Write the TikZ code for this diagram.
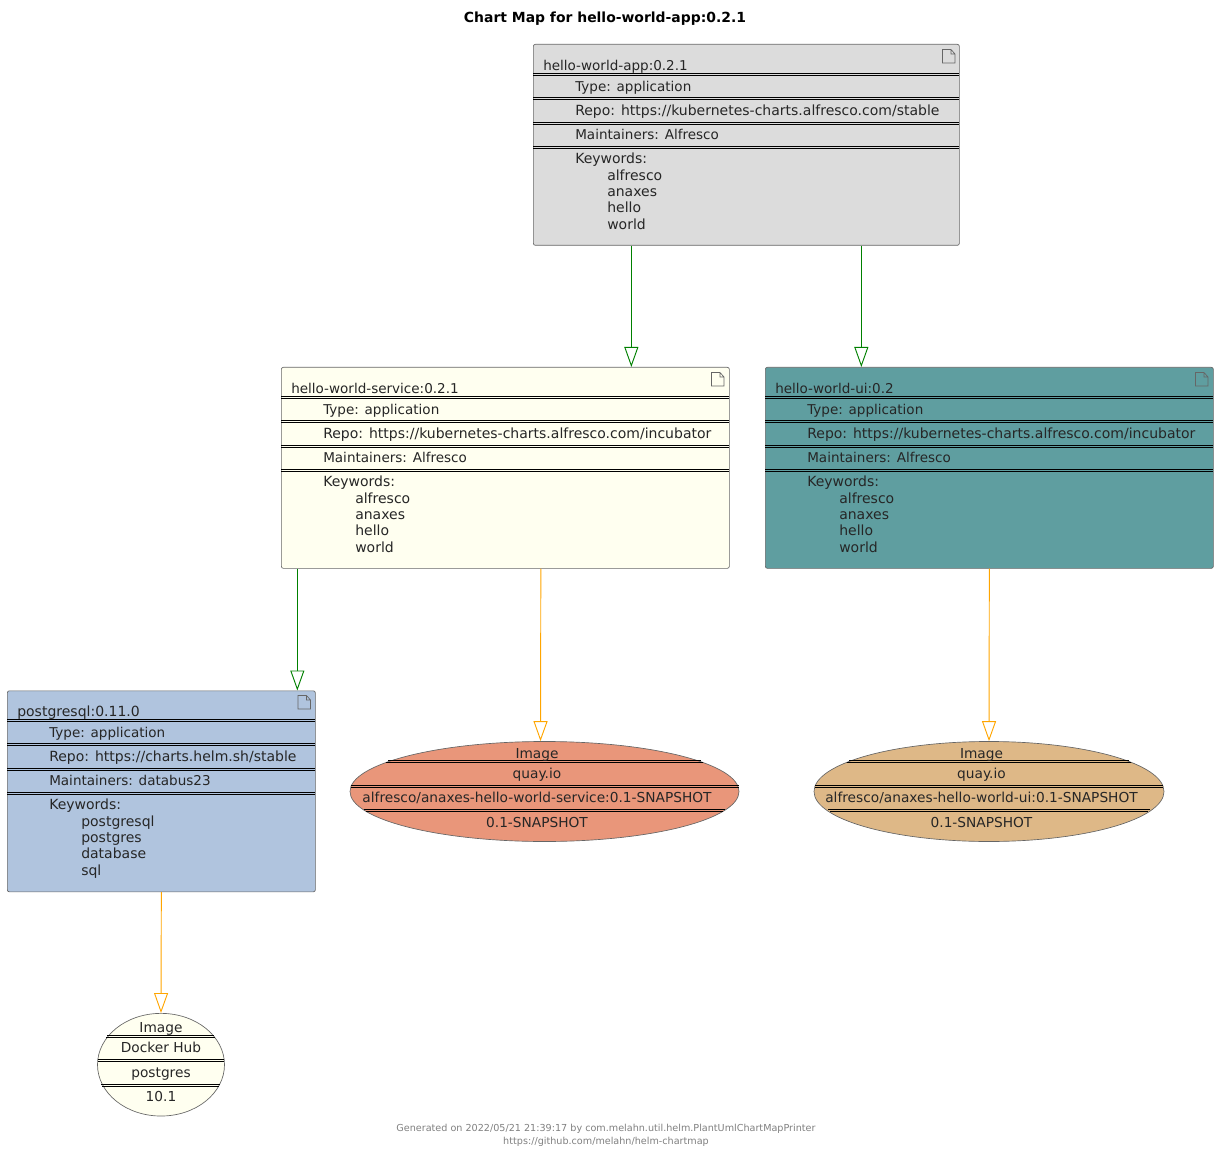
\documentclass[tikz,border=0pt]{standalone}
\usepackage{fontspec}
\setmainfont{DejaVu Sans}
\usetikzlibrary{arrows.meta,shapes.geometric}
\definecolor{appgrey}{HTML}{DCDCDC}
\definecolor{serviceivory}{HTML}{FFFFF0}
\definecolor{uiblue}{HTML}{5F9EA0}
\definecolor{postgresblue}{HTML}{B0C4DE}
\definecolor{servicesalmon}{HTML}{E9967A}
\definecolor{uiwood}{HTML}{DEB887}
\definecolor{greenline}{HTML}{008000}
\definecolor{orangeline}{HTML}{FFA500}
\definecolor{edgegrey}{HTML}{666666}
\tikzset{
  chartbox/.style={draw=edgegrey, line width=0.5pt, rounded corners=1.5pt, inner sep=0, anchor=north west},
  imageoval/.style={draw=edgegrey, line width=0.5pt, ellipse, inner sep=0},
  chartline/.style={inner sep=0, anchor=base west, yshift=-0.5pt, text=black!85, font=\fontsize{10.5}{12}\selectfont},
  narrowline/.style={chartline, font=\fontsize{10.15}{12}\selectfont},
  imageline/.style={inner sep=0, anchor=base, text=black!85, font=\fontsize{10.3}{12}\selectfont},
  sepline/.style={draw=black, line width=0.6pt},
  fileicon/.style={draw=edgegrey, line width=0.5pt},
  dependson/.style={draw=greenline, line width=0.7pt, -{Triangle[open, length=15pt, width=10.5pt]}},
  usesimage/.style={draw=orangeline, line width=0.7pt, -{Triangle[open, length=15pt, width=10.5pt]}}
}
\begin{document}
\begin{tikzpicture}[x=0.75pt, y=-0.75pt]
\useasboundingbox (0,0) rectangle (1224,1151);

%Title
\node[inner sep=0, font=\fontsize{10.45}{12}\selectfont\bfseries] (charttitle) at (605,19) {Chart Map for hello-world-app:0.2.1};

%hello-world-app
\node[chartbox, fill=appgrey, minimum width=319.5pt, minimum height=150.75pt] (app) at (533,44) {};
\draw[fileicon] (942.5,49.5) -- (951,49.5) -- (955,54) -- (955,63) -- (942.5,63) -- cycle (951,49.5) -- (951,54) -- (955,54);
\draw[sepline] (533,73.6) -- (959,73.6) (533,75.4) -- (959,75.4);
\draw[sepline] (533,97.6) -- (959,97.6) (533,99.4) -- (959,99.4);
\draw[sepline] (533,122.6) -- (959,122.6) (533,124.4) -- (959,124.4);
\draw[sepline] (533,146.6) -- (959,146.6) (533,148.4) -- (959,148.4);
\node[narrowline] (apptitle) at (543,70) {hello-world-app:0.2.1};
\node[narrowline] (apptype) at (575,91) {Type: application};
\node[chartline] (apprepo) at (575,115) {Repo: https://kubernetes-charts.alfresco.com/stable};
\node[narrowline] (appmaint) at (575,139) {Maintainers: Alfresco};
\node[chartline] (appkeys) at (575,163) {Keywords:};
\node[chartline] (appkeya) at (607,180) {alfresco};
\node[chartline] (appkeyb) at (607,196) {anaxes};
\node[chartline] (appkeyc) at (607,212) {hello};
\node[chartline] (appkeyd) at (607,229) {world};

%hello-world-service
\node[chartbox, fill=serviceivory, minimum width=336pt, minimum height=150.75pt] (service) at (281,367) {};
\draw[fileicon] (711.5,372.5) -- (720,372.5) -- (724,377) -- (724,386) -- (711.5,386) -- cycle (720,372.5) -- (720,377) -- (724,377);
\draw[sepline] (281,396.6) -- (729,396.6) (281,398.4) -- (729,398.4);
\draw[sepline] (281,420.6) -- (729,420.6) (281,422.4) -- (729,422.4);
\draw[sepline] (281,445.6) -- (729,445.6) (281,447.4) -- (729,447.4);
\draw[sepline] (281,469.6) -- (729,469.6) (281,471.4) -- (729,471.4);
\node[narrowline] (servicetitle) at (291,393) {hello-world-service:0.2.1};
\node[narrowline] (servicetype) at (323,414) {Type: application};
\node[chartline] (servicerepo) at (323,438) {Repo: https://kubernetes-charts.alfresco.com/incubator};
\node[narrowline] (servicemaint) at (323,462) {Maintainers: Alfresco};
\node[chartline] (servicekeys) at (323,486) {Keywords:};
\node[chartline] (servicekeya) at (355,503) {alfresco};
\node[chartline] (servicekeyb) at (355,519) {anaxes};
\node[chartline] (servicekeyc) at (355,535) {hello};
\node[chartline] (servicekeyd) at (355,552) {world};

%hello-world-ui
\node[chartbox, fill=uiblue, minimum width=336pt, minimum height=150.75pt] (ui) at (765,367) {};
\draw[fileicon] (1195.5,372.5) -- (1204,372.5) -- (1208,377) -- (1208,386) -- (1195.5,386) -- cycle (1204,372.5) -- (1204,377) -- (1208,377);
\draw[sepline] (765,396.6) -- (1213,396.6) (765,398.4) -- (1213,398.4);
\draw[sepline] (765,420.6) -- (1213,420.6) (765,422.4) -- (1213,422.4);
\draw[sepline] (765,445.6) -- (1213,445.6) (765,447.4) -- (1213,447.4);
\draw[sepline] (765,469.6) -- (1213,469.6) (765,471.4) -- (1213,471.4);
\node[narrowline] (uititle) at (775,393) {hello-world-ui:0.2};
\node[narrowline] (uitype) at (807,414) {Type: application};
\node[chartline] (uirepo) at (807,438) {Repo: https://kubernetes-charts.alfresco.com/incubator};
\node[narrowline] (uimaint) at (807,462) {Maintainers: Alfresco};
\node[chartline] (uikeys) at (807,486) {Keywords:};
\node[chartline] (uikeya) at (839,503) {alfresco};
\node[chartline] (uikeyb) at (839,519) {anaxes};
\node[chartline] (uikeyc) at (839,535) {hello};
\node[chartline] (uikeyd) at (839,552) {world};

%postgresql
\node[chartbox, fill=postgresblue, minimum width=231pt, minimum height=150.75pt] (postgres) at (7,690.5) {};
\draw[fileicon] (298,695.5) -- (306.5,695.5) -- (310.5,700) -- (310.5,709) -- (298,709) -- cycle (306.5,695.5) -- (306.5,700) -- (310.5,700);
\draw[sepline] (7,719.6) -- (315,719.6) (7,721.4) -- (315,721.4);
\draw[sepline] (7,743.6) -- (315,743.6) (7,745.4) -- (315,745.4);
\draw[sepline] (7,768.6) -- (315,768.6) (7,770.4) -- (315,770.4);
\draw[sepline] (7,792.6) -- (315,792.6) (7,794.4) -- (315,794.4);
\node[chartline] (postgrestitle) at (17,716) {postgresql:0.11.0};
\node[narrowline] (postgrestype) at (49,737) {Type: application};
\node[chartline] (postgresrepo) at (49,761) {Repo: https://charts.helm.sh/stable};
\node[narrowline] (postgresmaint) at (49,785) {Maintainers: databus23};
\node[chartline] (postgreskeys) at (49,809) {Keywords:};
\node[chartline] (postgreskeya) at (81,826) {postgresql};
\node[chartline] (postgreskeyb) at (81,842) {postgres};
\node[chartline] (postgreskeyc) at (81,858) {database};
\node[chartline] (postgreskeyd) at (81,875) {sql};

%Image service
\node[imageoval, fill=servicesalmon, minimum width=291.75pt, minimum height=75pt] (serviceimage) at (544.5,791.5) {};
\draw[sepline] (388,760.1) -- (701,760.1) (386,761.9) -- (703,761.9);
\draw[sepline] (350.5,785.1) -- (738.5,785.1) (350.5,786.9) -- (738.5,786.9);
\draw[sepline] (364,809.1) -- (725,809.1) (366,810.9) -- (723,810.9);
\node[imageline] (serviceimagea) at (537,758) {Image};
\node[imageline] (serviceimageb) at (537,778) {quay.io};
\node[imageline] (serviceimagec) at (537,802) {alfresco/anaxes-hello-world-service:0.1-SNAPSHOT};
\node[imageline] (serviceimaged) at (537,827) {0.1-SNAPSHOT};

%Image ui
\node[imageoval, fill=uiwood, minimum width=262.5pt, minimum height=75pt] (uiimage) at (989,791.5) {};
\draw[sepline] (849,760.1) -- (1129,760.1) (847,761.9) -- (1131,761.9);
\draw[sepline] (815,785.1) -- (1163,785.1) (815,786.9) -- (1163,786.9);
\draw[sepline] (828,809.1) -- (1150,809.1) (830,810.9) -- (1148,810.9);
\node[imageline] (uiimagea) at (981.5,758) {Image};
\node[imageline] (uiimageb) at (981.5,778) {quay.io};
\node[imageline] (uiimagec) at (981.5,802) {alfresco/anaxes-hello-world-ui:0.1-SNAPSHOT};
\node[imageline] (uiimaged) at (981.5,827) {0.1-SNAPSHOT};

%Image postgres
\node[imageoval, fill=serviceivory, minimum width=95.25pt, minimum height=77pt] (postgresimage) at (161,1064.7) {};
\draw[sepline] (107,1035.6) -- (214,1035.6) (106,1037.4) -- (215,1037.4);
\draw[sepline] (98,1059.6) -- (224,1059.6) (98,1061.4) -- (224,1061.4);
\draw[sepline] (101,1084.6) -- (220,1084.6) (102,1086.4) -- (219,1086.4);
\node[imageline] (postgresimagea) at (161,1032) {Image};
\node[imageline] (postgresimageb) at (161,1052) {Docker Hub};
\node[imageline] (postgresimagec) at (161,1077) {postgres};
\node[imageline] (postgresimaged) at (161,1101) {10.1};

%Liens
\draw[dependson] ([xshift=-86.25pt]app.south) -- ([xshift=94.5pt]service.north);
\draw[dependson] ([xshift=86.25pt]app.south) -- ([xshift=-96pt]ui.north);
\draw[dependson] ([xshift=-156pt]service.south) -- ([xshift=102pt]postgres.north);
\draw[usesimage] ([xshift=26.625pt]service.south) -- ([xshift=-3pt]serviceimage.north);
\draw[usesimage] (ui.south) -- (uiimage.north);
\draw[usesimage] (postgres.south) -- (postgresimage.north);

%Footer
\node[inner sep=0, align=center, text=gray, font=\fontsize{7.22}{9.75}\selectfont] (footer) at (606,1135) {Generated on 2022/05/21 21:39:17 by com.melahn.util.helm.PlantUmlChartMapPrinter\\https://github.com/melahn/helm-chartmap};
\end{tikzpicture}
\end{document}
